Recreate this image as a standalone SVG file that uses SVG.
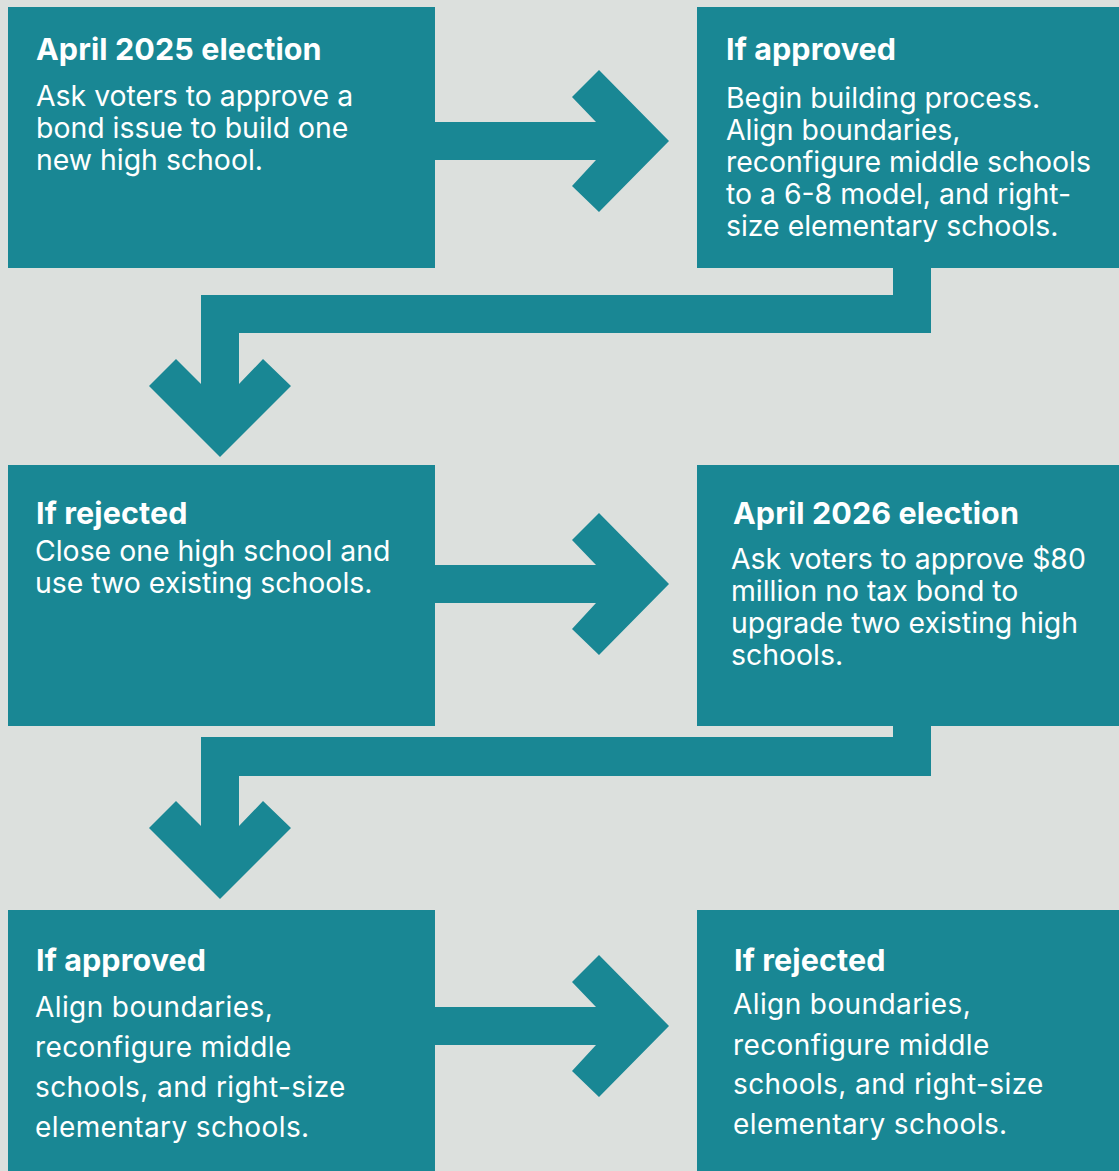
<svg xmlns="http://www.w3.org/2000/svg" width="1119" height="1171" viewBox="0 0 1119 1171">
  <style>
    .bg { fill: #dce0dd; }
    .box { fill: #198794; }
    .conn { fill: #198794; }
    .title { font-family: Inter, "Noto Sans", "Liberation Sans", sans-serif; font-weight: 700; font-size: 30.5px; letter-spacing: 0.1px; fill: #ffffff; }
    .body { font-family: Inter, "Noto Sans", "Liberation Sans", sans-serif; font-weight: 400; font-size: 28.4px; fill: #ffffff; }
    .body2 { font-family: Inter, "Noto Sans", "Liberation Sans", sans-serif; font-weight: 400; font-size: 28px; letter-spacing: 0.4px; fill: #ffffff; }
  </style>
  <rect class="bg" x="0" y="0" width="1119" height="1171"/>

  <g id="connectors">
    <polygon class="conn" points="435,122 596,122 572,97 599,70 669,141 599,212 572,186 596,160 435,160"/>
    <polygon class="conn" points="893,266 931,266 931,333 239,333 239,384 263,359 291,386 220,457 149,386 176,359 201,384 201,295 893,295"/>
    <polygon class="conn" points="435,565 596,565 572,540 599,513 669,584 599,655 572,629 596,603 435,603"/>
    <polygon class="conn" points="893,724 931,724 931,776 239,776 239,826 263,801 291,828 220,899 149,828 176,801 201,826 201,737 893,737"/>
    <polygon class="conn" points="435,1007 596,1007 572,982 599,955 669,1026 599,1097 572,1071 596,1045 435,1045"/>
  </g>

  <g id="node-april2025">
    <rect class="box" x="8" y="7" width="427" height="261"/>
    <text class="title" x="36" y="60">April 2025 election</text>
    <text class="body" x="36" y="106">Ask voters to approve a</text>
    <text class="body" x="36" y="138">bond issue to build one</text>
    <text class="body" x="36" y="170">new high school.</text>
  </g>

  <g id="node-approved1">
    <rect class="box" x="697" y="7" width="422" height="261"/>
    <text class="title" x="726" y="60">If approved</text>
    <text class="body" x="726" y="108">Begin building process.</text>
    <text class="body" x="726" y="140">Align boundaries,</text>
    <text class="body" x="726" y="172">reconfigure middle schools</text>
    <text class="body" x="726" y="204">to a 6-8 model, and right-</text>
    <text class="body" x="726" y="236">size elementary schools.</text>
  </g>

  <g id="node-rejected1">
    <rect class="box" x="8" y="465" width="427" height="261"/>
    <text class="title" x="36" y="524">If rejected</text>
    <text class="body" x="35" y="561">Close one high school and</text>
    <text class="body" x="35" y="593">use two existing schools.</text>
  </g>

  <g id="node-april2026">
    <rect class="box" x="697" y="465" width="422" height="261"/>
    <text class="title" x="733" y="524">April 2026 election</text>
    <text class="body" x="731" y="569">Ask voters to approve $80</text>
    <text class="body" x="731" y="601">million no tax bond to</text>
    <text class="body" x="731" y="633">upgrade two existing high</text>
    <text class="body" x="731" y="665">schools.</text>
  </g>

  <g id="node-approved2">
    <rect class="box" x="8" y="910" width="427" height="261"/>
    <text class="title" x="36" y="971">If approved</text>
    <text class="body2" x="35" y="1017">Align boundaries,</text>
    <text class="body2" x="35" y="1057">reconfigure middle</text>
    <text class="body2" x="35" y="1097">schools, and right-size</text>
    <text class="body2" x="35" y="1137">elementary schools.</text>
  </g>

  <g id="node-rejected2">
    <rect class="box" x="697" y="910" width="422" height="261"/>
    <text class="title" x="734" y="971">If rejected</text>
    <text class="body2" x="733" y="1014">Align boundaries,</text>
    <text class="body2" x="733" y="1055">reconfigure middle</text>
    <text class="body2" x="733" y="1094">schools, and right-size</text>
    <text class="body2" x="733" y="1134">elementary schools.</text>
  </g>
</svg>
